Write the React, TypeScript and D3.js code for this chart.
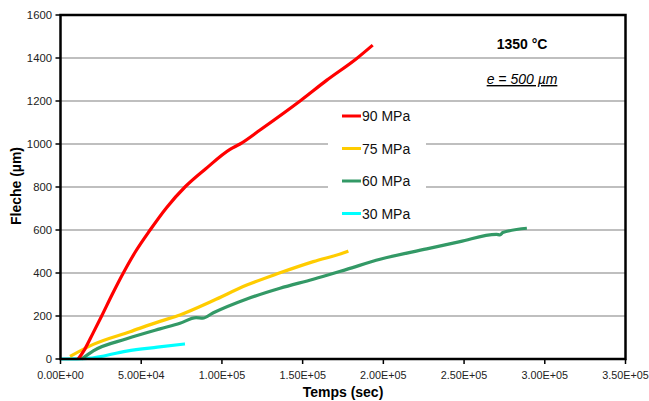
import React from "react";
import * as d3 from "d3";

const xTicks = [0, 50000, 100000, 150000, 200000, 250000, 300000, 350000];
const xTickLabels = ["0.00E+00", "5.00E+04", "1.00E+05", "1.50E+05", "2.00E+05", "2.50E+05", "3.00E+05", "3.50E+05"];
const yTicks = [0, 200, 400, 600, 800, 1000, 1200, 1400, 1600];

const seriesNames = ["90 MPa", "75 MPa", "60 MPa", "30 MPa"];
const seriesColors = ["#ff0000", "#ffcc00", "#339966", "#00ffff"];

const red90: [number, number][] = [
  [11000, 0], [15000, 45], [20000, 118], [25500, 200], [32000, 300], [38900, 400], [46500, 500],
  [55500, 600], [65800, 705], [77100, 800], [90000, 885], [105000, 975], [111200, 1000],
  [123600, 1065], [148400, 1200], [165000, 1297], [183500, 1398], [193400, 1460],
];
const yellow75: [number, number][] = [
  [5900, 12], [20300, 68], [43100, 127], [61600, 175], [74000, 205], [94700, 272],
  [115400, 344], [136000, 401], [156600, 453], [177300, 499], [178300, 502],
];
const green60: [number, number][] = [
  [13100, 0], [20300, 38], [41000, 94], [61600, 140], [74000, 166], [84000, 192], [88000, 190],
  [94700, 215], [115400, 279], [136000, 329], [156600, 371], [177300, 417],
  [198000, 464], [226900, 512], [247500, 546], [270000, 580], [272300, 577],
  [274000, 588], [288900, 608],
];
const cyan30: [number, number][] = [
  [0, 0], [17000, 3], [41000, 37], [60000, 55], [77100, 70],
];
const seriesData = [red90, yellow75, green60, cyan30];
const drawOrder = [3, 2, 1, 0];

const W = 649, H = 401;
const L = 60.5, R = 625.5, T = 15, B = 359;

export default function App() {
  const x = d3.scaleLinear().domain([0, 350000]).range([L, R]);
  const y = d3.scaleLinear().domain([0, 1600]).range([B, T]);
  const line = d3.line<[number, number]>().x((d) => x(d[0])).y((d) => y(d[1])).curve(d3.curveMonotoneX);
  const font = "'Liberation Sans', Arial, sans-serif";
  return (
    <svg width={W} height={H} style={{ position: "absolute", left: 0, top: 0, fontFamily: font }}>
      <rect x={0} y={0} width={W} height={H} fill="#fff" />
      {yTicks.slice(1, -1).map((t) => (
        <line key={t} x1={L} x2={R} y1={y(t)} y2={y(t)} stroke="#808080" strokeWidth={1.2} />
      ))}
      <rect x={328} y={103} width={98} height={125} fill="#fff" />
      {drawOrder.map((i) => (
        <path key={i} d={line(seriesData[i]) || ""} fill="none" stroke={seriesColors[i]} strokeWidth={3.2} strokeLinejoin="round" />
      ))}
      <rect x={L} y={T} width={R - L} height={B - T} fill="none" stroke="#000" strokeWidth={2.5} />
      {yTicks.map((t) => (
        <g key={t}>
          <line x1={L - 5} x2={L} y1={y(t)} y2={y(t)} stroke="#000" strokeWidth={1.5} />
          <text x={52} y={y(t) + 4} fontSize={11.3} textAnchor="end" fill="#222">{t}</text>
        </g>
      ))}
      {xTicks.map((t, i) => (
        <g key={t}>
          <line x1={x(t)} x2={x(t)} y1={B} y2={B + 5} stroke="#000" strokeWidth={1.5} />
          <text x={x(t)} y={379} fontSize={10.8} textAnchor="middle" fill="#222">{xTickLabels[i]}</text>
        </g>
      ))}
      <text x={343} y={397} fontSize={14} fontWeight="bold" textAnchor="middle">Temps (sec)</text>
      <text transform="translate(21,186) rotate(-90)" fontSize={14} fontWeight="bold" textAnchor="middle">Fleche (µm)</text>
      <text x={522} y={49} fontSize={14} fontWeight="bold" textAnchor="middle">1350 °C</text>
      <text x={522} y={84} fontSize={14} fontStyle="italic" textAnchor="middle" textDecoration="underline">e = 500 µm</text>
      {seriesNames.map((n, i) => (
        <g key={n}>
          <line x1={342} x2={361} y1={116 + i * 32.5} y2={116 + i * 32.5} stroke={seriesColors[i]} strokeWidth={3} />
          <text x={362} y={121 + i * 32.5} fontSize={14} fill="#111">{n}</text>
        </g>
      ))}
    </svg>
  );
}
